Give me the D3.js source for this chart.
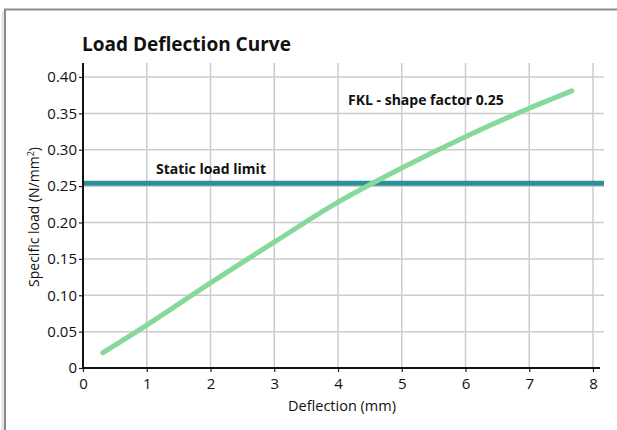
<!DOCTYPE html>
<html>
<head>
<meta charset="utf-8">
<script src="https://cdn.jsdelivr.net/npm/d3@7"></script>
<style>
  body { margin: 0; background: #fff; }
  text { font-family: "Open Sans", "Noto Sans", sans-serif; }
</style>
</head>
<body>
<div id="chart"></div>
<script>
'use strict';

// curve: deflection (mm) vs specific load (N/mm2)
const deflection = [0.31, 1, 2, 3, 4, 5, 6, 7, 7.67];
const load = [0.021, 0.059, 0.117, 0.173, 0.228, 0.275, 0.318, 0.357, 0.381];
const staticLimit = 0.254;
const xTicks = [0, 1, 2, 3, 4, 5, 6, 7, 8];
const yTicks = [0, 0.05, 0.10, 0.15, 0.20, 0.25, 0.30, 0.35, 0.40];

const W = 617, H = 430;

let svg = d3.select("#chart").append("svg")
  .attr("width", W)
  .attr("height", H);

// card frame with a soft shadow on the left
[[2, "#e6e6e6"], [3, "#cfcfcf"]].forEach(function(s) {
  svg.append("line")
    .attr("x1", s[0]).attr("x2", s[0])
    .attr("y1", 11).attr("y2", H)
    .style("stroke", s[1]).style("stroke-width", 1);
});
svg.append("path")
  .attr("d", "M5," + H + "V9.5H" + W)
  .style("fill", "none")
  .style("stroke", "#8a8a8a")
  .style("stroke-width", 2);

let x = d3.scaleLinear().domain([0, 8]).range([83, 593]);
let y = d3.scaleLinear().domain([0, 0.40]).range([368, 77]);

const gridTop = 63, gridRight = 604;

// grid
svg.append("g").selectAll("line")
  .data(xTicks.slice(1))
  .enter().append("line")
  .attr("x1", d => x(d)).attr("x2", d => x(d))
  .attr("y1", gridTop).attr("y2", y(0))
  .style("stroke", "#cccccc").style("stroke-width", 1.5);

svg.append("g").selectAll("line")
  .data(yTicks.slice(1))
  .enter().append("line")
  .attr("x1", x(0)).attr("x2", gridRight)
  .attr("y1", d => y(d)).attr("y2", d => y(d))
  .style("stroke", "#cccccc").style("stroke-width", 1.5);

// axes
let xAxis = svg.append("g")
  .attr("transform", "translate(0," + y(0) + ")")
  .call(d3.axisBottom(x).tickValues(xTicks).tickFormat(d3.format("d")).tickSize(4));
let yAxis = svg.append("g")
  .attr("transform", "translate(" + x(0) + ",0)")
  .call(d3.axisLeft(y).tickValues(yTicks)
    .tickFormat(d => d === 0 ? "0" : d3.format(".2f")(d)).tickSize(4));

[xAxis, yAxis].forEach(function(a) {
  a.attr("font-size", 15).attr("font-family", "'Open Sans', sans-serif");
  a.select(".domain").remove();
  a.selectAll(".tick line").style("stroke", "#222").style("stroke-width", 1.2);
  a.selectAll(".tick text")
    .attr("font-size", 15)
    .attr("fill", "#111");
});
xAxis.selectAll(".tick text").attr("dy", "0.9em");
yAxis.selectAll(".tick text").attr("x", -6);

svg.append("line")
  .attr("x1", x(0)).attr("x2", 600)
  .attr("y1", y(0)).attr("y2", y(0))
  .style("stroke", "#111").style("stroke-width", 2);
svg.append("line")
  .attr("x1", x(0)).attr("x2", x(0))
  .attr("y1", gridTop).attr("y2", y(0) + 1)
  .style("stroke", "#111").style("stroke-width", 2);

// static load limit
svg.append("line")
  .attr("x1", x(0) + 1).attr("x2", gridRight)
  .attr("y1", y(staticLimit)).attr("y2", y(staticLimit))
  .style("stroke", "#2b9199").style("stroke-width", 5);

// load deflection curve
let pts = deflection.map((d, i) => [d, load[i]]);
svg.append("path")
  .datum(pts)
  .attr("d", d3.line().x(d => x(d[0])).y(d => y(d[1])).curve(d3.curveMonotoneX))
  .style("fill", "none")
  .style("stroke", "#86d89b")
  .style("stroke-width", 5)
  .style("stroke-linecap", "round");

// labels
svg.append("text")
  .attr("x", 82).attr("y", 51)
  .style("font-size", "19px")
  .style("font-weight", "bold")
  .style("fill", "#111")
  .text("Load Deflection Curve");

svg.append("text")
  .attr("x", 156).attr("y", 174)
  .style("font-size", "14px")
  .style("font-weight", "bold")
  .style("fill", "#111")
  .text("Static load limit");

svg.append("text")
  .attr("x", 348).attr("y", 105)
  .style("font-size", "14px")
  .style("font-weight", "bold")
  .style("fill", "#111")
  .text("FKL - shape factor 0.25");

svg.append("text")
  .attr("x", 342).attr("y", 411)
  .attr("text-anchor", "middle")
  .style("font-size", "14.5px")
  .style("fill", "#111")
  .text("Deflection (mm)");

let yl = svg.append("text")
  .attr("transform", "translate(39,217) rotate(-90)")
  .attr("text-anchor", "middle")
  .style("font-size", "14px")
  .style("fill", "#111");
yl.append("tspan").text("Specific load (N/mm");
yl.append("tspan").attr("dy", -5).style("font-size", "9px").text("2");
yl.append("tspan").attr("dy", 5).text(")");
</script>
</body>
</html>
